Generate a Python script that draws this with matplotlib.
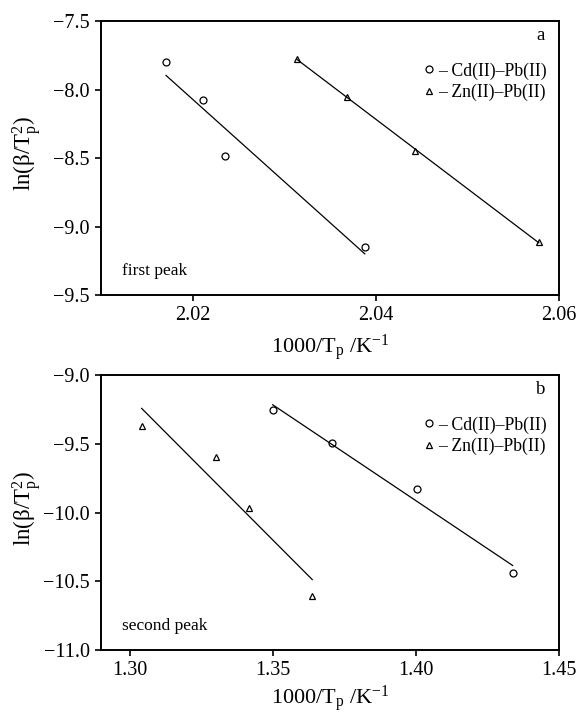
import numpy as np
import matplotlib
matplotlib.use('Agg')
import matplotlib.pyplot as plt

plt.rcParams['font.family'] = ['Liberation Serif', 'DejaVu Serif']
plt.rcParams['mathtext.fontset'] = 'custom'
plt.rcParams['mathtext.rm'] = 'Liberation Serif'
plt.rcParams['mathtext.it'] = 'Liberation Serif:italic'

# first peak
x_cd_1 = [2.0171, 2.0211, 2.0235, 2.0388]
y_cd_1 = [-7.80, -8.08, -8.485, -9.15]
x_zn_1 = [2.0314, 2.0369, 2.0443, 2.0578]
y_zn_1 = [-7.777, -8.055, -8.449, -9.113]

# second peak
x_cd_2 = [1.3500, 1.3706, 1.4003, 1.4338]
y_cd_2 = [-9.257, -9.497, -9.829, -10.44]
x_zn_2 = [1.3042, 1.3302, 1.3418, 1.3638]
y_zn_2 = [-9.371, -9.596, -9.970, -10.607]

xlabel = r'1000/T$_\mathregular{p}$ /K$^\mathregular{-1}$'
ylabel = r'ln($\mathregular{\beta}$/T$_\mathregular{p}^\mathregular{2}$)'
nombres = ['– Cd(II)–Pb(II)', '– Zn(II)–Pb(II)']


def recta(ax, x, y):
    # ajuste lineal sobre el rango de los datos
    m, b = np.polyfit(x, y, 1)
    xs = np.array([min(x), max(x)])
    ax.plot(xs, m * xs + b, color='black', lw=0.9)


def panel(ax, xc, yc, xz, yz, xlim, ylim, xticks, yticks, letra, pico, pad):
    ax.plot(xc, yc, 'o', ms=5, mfc='white', mec='black', mew=0.9, label=nombres[0])
    ax.plot(xz, yz, '^', ms=5, mfc='white', mec='black', mew=0.9, label=nombres[1])
    recta(ax, xc, yc)
    recta(ax, xz, yz)
    ax.set_xlim(*xlim)
    ax.set_ylim(*ylim)
    ax.set_xticks(xticks)
    ax.set_yticks(yticks)
    ax.set_xticklabels([f'{t:.2f}' for t in xticks])
    ax.set_yticklabels([f'{t:.1f}'.replace('-', '\u2212') for t in yticks])
    ax.tick_params(direction='out', length=4.5, width=1.2, labelsize=14.5)
    for s in ax.spines.values():
        s.set_linewidth(1.4)
    ax.set_xlabel(xlabel, fontsize=16, labelpad=pad)
    ax.set_ylabel(ylabel, fontsize=16.5)
    ax.yaxis.set_label_coords(-0.125, 0.515)
    ax.text(0.97, 0.98, letra, transform=ax.transAxes, ha='right', va='top', fontsize=13.5)
    ax.text(0.045, 0.06, pico, transform=ax.transAxes, ha='left', va='bottom', fontsize=12.5)
    ax.legend(loc='upper right', bbox_to_anchor=(1.0, 0.895), frameon=False, fontsize=12.8,
              handlelength=0.6, handletextpad=0.2, labelspacing=0.25, borderaxespad=0.3)


fig = plt.figure(figsize=(5.81, 7.15), dpi=100)
ax1 = fig.add_axes([0.1738, 0.5874, 0.7883, 0.3832])
ax2 = fig.add_axes([0.1738, 0.0909, 0.7883, 0.3846])

panel(ax1, x_cd_1, y_cd_1, x_zn_1, y_zn_1, (2.01, 2.06), (-9.5, -7.5),
      [2.02, 2.04, 2.06], [-7.5, -8.0, -8.5, -9.0, -9.5], 'a', 'first peak', 5)
panel(ax2, x_cd_2, y_cd_2, x_zn_2, y_zn_2, (1.29, 1.45), (-11.0, -9.0),
      [1.30, 1.35, 1.40, 1.45], [-9.0, -9.5, -10.0, -10.5, -11.0], 'b', 'second peak', 2.5)

fig.savefig('out.png', dpi=100)
